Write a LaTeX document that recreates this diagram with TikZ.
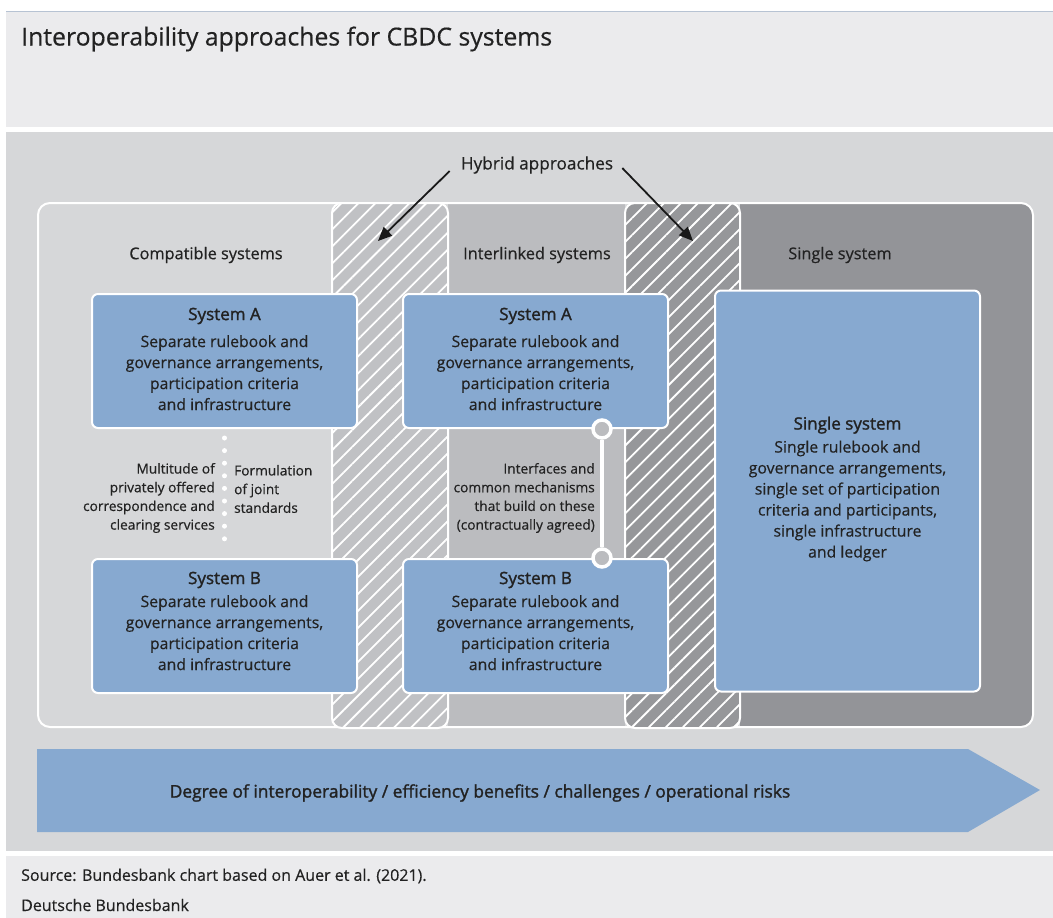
\documentclass[tikz,border=0pt]{standalone}
\usepackage{fontspec}
\setmainfont{Open Sans}[FakeBold=0.45]
\newfontfamily\semib{Open Sans}[FakeBold=1.6]
\usetikzlibrary{patterns.meta,arrows.meta}
\definecolor{bgmain}{HTML}{D6D7D9}
\definecolor{bgband}{HTML}{EBEBED}
\definecolor{bluebox}{HTML}{87A9D0}
\definecolor{interl}{HTML}{BBBCBF}
\definecolor{singl}{HTML}{939498}
\definecolor{hatchA}{HTML}{C0C1C4}
\definecolor{hatchB}{HTML}{96979A}
\definecolor{txt}{HTML}{222222}
\definecolor{topline}{HTML}{B7C3D3}
\tikzset{
  sysbox/.style={draw=white, line width=2pt, fill=bluebox, rounded corners=6pt,
    minimum width=265pt, minimum height=134pt, inner sep=0pt},
  boxtext/.style={align=center, inner sep=0pt, font=\fontsize{15.8}{21}\selectfont},
  hatchcol/.style={draw=white, line width=2pt, rounded corners=10pt,
    postaction={pattern={Lines[angle=45,distance=12pt,line width=1.8pt]}, pattern color=white}},
  seclabel/.style={font=\fontsize{16.3}{20}\selectfont, inner sep=0pt},
  smalltxt/.style={font=\fontsize{13.7}{18.7}\selectfont, inner sep=0pt},
  harrow/.style={draw=black!90, line width=1.8pt, -{Triangle[length=14pt,width=12pt]}},
  dots/.style={draw=white, line width=5pt, line cap=round, dash pattern=on 0pt off 12.6pt},
  ring/.style={circle, draw=white, line width=3.5pt, fill=interl, minimum size=18pt, inner sep=0pt},
  every node/.append style={text=txt}
}
\newcommand\systitle[1]{{\semib\fontsize{17}{21}\selectfont #1}}
\begin{document}
\begin{tikzpicture}[x=1pt,y=-1pt]
\useasboundingbox (0,0) rectangle (1053,918);
\fill[white] (0,0) rectangle (1053,918);
% bands
\fill[bgband] (6,11) rectangle (1053,127);
\draw[topline, line width=1pt] (6,11) -- (1053,11);
\fill[bgmain] (6,132) rectangle (1053,851);
\fill[bgband] (6,856) rectangle (1053,918);
\node[anchor=west, inner sep=0pt, font=\fontsize{24.8}{28}\selectfont] (title) at (21,39) {Interoperability approaches for CBDC systems};
% outer frame and regions
\fill[bgmain, rounded corners=12pt] (38,203) rectangle (1033,727);
\fill[interl] (448,204) rectangle (625,726);
\begin{scope}
  \clip[rounded corners=12pt] (38,203) rectangle (1033,727);
  \fill[singl] (740,203) rectangle (1033,727);
\end{scope}
\draw[white, line width=2pt, rounded corners=12pt] (38,203) rectangle (1033,727);
% hatched columns
\path[hatchcol, fill=hatchA] (332,203) rectangle (448,728);
\path[hatchcol, fill=hatchB] (625,203) rectangle (740,728);
% section labels
\node[seclabel] (lcomp) at (206,255) {Compatible systems};
\node[seclabel] (linter) at (537,255) {Interlinked systems};
\node[seclabel] (lsingle) at (840,255) {Single system};
% hybrid
\node[seclabel, font=\fontsize{17.2}{20}\selectfont] (hyb) at (537,165) {Hybrid approaches};
\coordinate (tipL) at (378,241);
\coordinate (tipR) at (693,241);
\draw[harrow] ([xshift=-11pt,yshift=-6pt]hyb.west) -- (tipL);
\draw[harrow] ([xshift=9pt,yshift=-3pt]hyb.east) -- (tipR);
% boxes
\node[sysbox] (cA) at (224.5,361) {};
\node[sysbox] (cB) at (224.5,626) {};
\node[sysbox] (iA) at (535.5,361) {};
\node[sysbox] (iB) at (535.5,626) {};
\node[sysbox, minimum height=401pt] (sS) at (847.5,491) {};
\node[boxtext] (cAt) at ([yshift=2pt]cA.center) {\systitle{System A}\\[6pt]Separate rulebook and\\governance arrangements,\\participation criteria\\and infrastructure};
\node[boxtext] (cBt) at ([yshift=5pt]cB.center) {\systitle{System B}\\[2pt]Separate rulebook and\\governance arrangements,\\participation criteria\\and infrastructure};
\node[boxtext] (iAt) at ([yshift=2pt]iA.center) {\systitle{System A}\\[6pt]Separate rulebook and\\governance arrangements,\\participation criteria\\and infrastructure};
\node[boxtext] (iBt) at ([yshift=5pt]iB.center) {\systitle{System B}\\[2pt]Separate rulebook and\\governance arrangements,\\participation criteria\\and infrastructure};
\node[boxtext] (sSt) at ([yshift=2pt]sS.center) {\systitle{Single system}\\[2pt]Single rulebook and\\governance arrangements,\\single set of participation\\criteria and participants,\\single infrastructure\\and ledger};
% compatible connector
\draw[dots] ([yshift=-9pt]cA.south) -- ([yshift=8pt]cB.north);
\node[smalltxt, anchor=east, align=right] (tmult) at (215,498) {Multitude of\\privately offered\\correspondence and\\clearing services};
\node[smalltxt, anchor=west, align=left] (tform) at (234,489) {Formulation\\of joint\\standards};
% interlinked connector
\coordinate (lx) at (602,0);
\node[ring] (r1) at (iA.south -| lx) {};
\node[ring] (r2) at (iB.north -| lx) {};
\draw[white, line width=3.5pt] (r1) -- (r2);
\node[smalltxt, anchor=east, align=right] (tint) at (595,498) {Interfaces and\\common mechanisms\\that build on these\\(contractually agreed)};
% bottom arrow
\fill[bluebox] (37,749) -- (968,749) -- (1040,790) -- (968,832) -- (37,832) -- cycle;
\node[inner sep=0pt, font=\semib\fontsize{17.4}{20}\selectfont] (deg) at (480,793) {Degree of interoperability / efficiency benefits / challenges / operational risks};
% footer
\node[anchor=west, inner sep=0pt, font=\fontsize{16}{18}\selectfont] (src) at (21,876) {Source: Bundesbank chart based on Auer et al. (2021).};
\node[anchor=west, inner sep=0pt, font=\fontsize{16}{18}\selectfont] (db) at (21,905) {Deutsche Bundesbank};
\end{tikzpicture}
\end{document}
